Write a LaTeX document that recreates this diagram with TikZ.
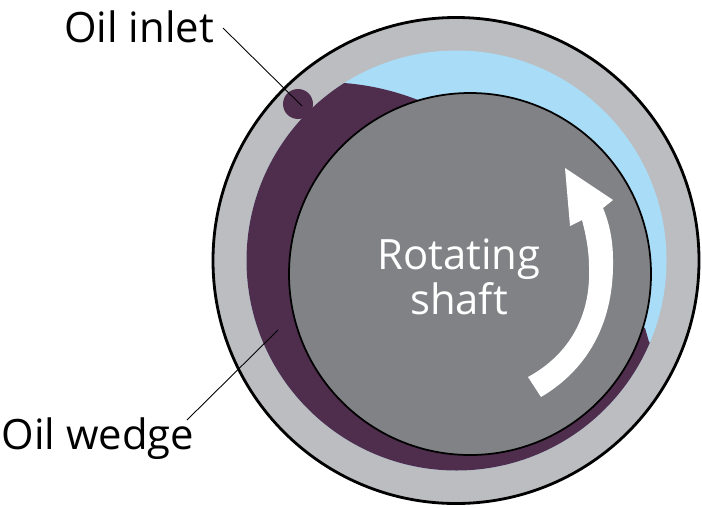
\documentclass[tikz,border=0pt]{standalone}
\usepackage{fontspec}
\setmainfont{Open Sans}

\definecolor{ringgrey}{HTML}{BBBDC0}
\definecolor{oilblue}{HTML}{A9DCF7}
\definecolor{oilpurple}{HTML}{4F2D4D}
\definecolor{shaftgrey}{HTML}{808285}

\tikzset{
	partlabel/.style={font=\fontsize{23.8pt}{28pt}\selectfont, text=black, inner sep=0pt},
	shaftlabel/.style={font=\fontsize{23.8pt}{26pt}\selectfont, text=white, align=center, inner sep=0pt},
	leaderline/.style={draw=black, line width=0.5pt}
}

\begin{document}
\begin{tikzpicture}[x=0.02cm, y=-0.02cm]
	\useasboundingbox (0, 0) rectangle (702, 507);

	% housing and bore
	\draw [fill=ringgrey, line width=1.6pt] (456, 260.5) circle (243);
	\fill [oilblue] (456.5, 260.5) circle (210);

	% oil film, cut off at the bore
	\begin{scope}
		\clip (456.5, 260.5) circle (210);
		\fill [oilpurple] (344, 83) .. controls (370, 85) and (395, 91) .. (418, 100)
			-- (470, 274) -- (645, 328) -- (649, 342) -- (720, 400)
			-- (720, 510) -- (200, 510) -- (200, 80) -- cycle;
	\end{scope}
	\fill [oilpurple] (298, 104) circle (15);

	% shaft
	\draw [fill=shaftgrey, line width=1pt] (470, 274) circle (181);

	% rotation arrow
	\fill [white] (528, 377) .. controls (570, 354) and (591, 315) .. (589, 267)
		.. controls (589, 251) and (586, 235) .. (582, 220)
		-- (570, 226) -- (565, 168) -- (613, 200) -- (603, 208)
		.. controls (610, 225) and (613, 242) .. (613, 260)
		.. controls (614, 320) and (590, 368) .. (541, 397) -- cycle;

	\node [shaftlabel] (shaft) at (459, 277) {Rotating\\shaft};
	\node [partlabel] (inlet) at (139, 27) {Oil inlet};
	\node [partlabel] (wedge) at (98, 439) {Oil wedge};

	\coordinate (inletstart) at (223, 28);
	\coordinate (inletend) at (302, 106);
	\coordinate (wedgestart) at (187, 420);
	\coordinate (wedgeend) at (278, 330);

	\draw [leaderline] (inletstart) -- (inletend);
	\draw [leaderline] (wedgestart) -- (wedgeend);
\end{tikzpicture}
\end{document}
